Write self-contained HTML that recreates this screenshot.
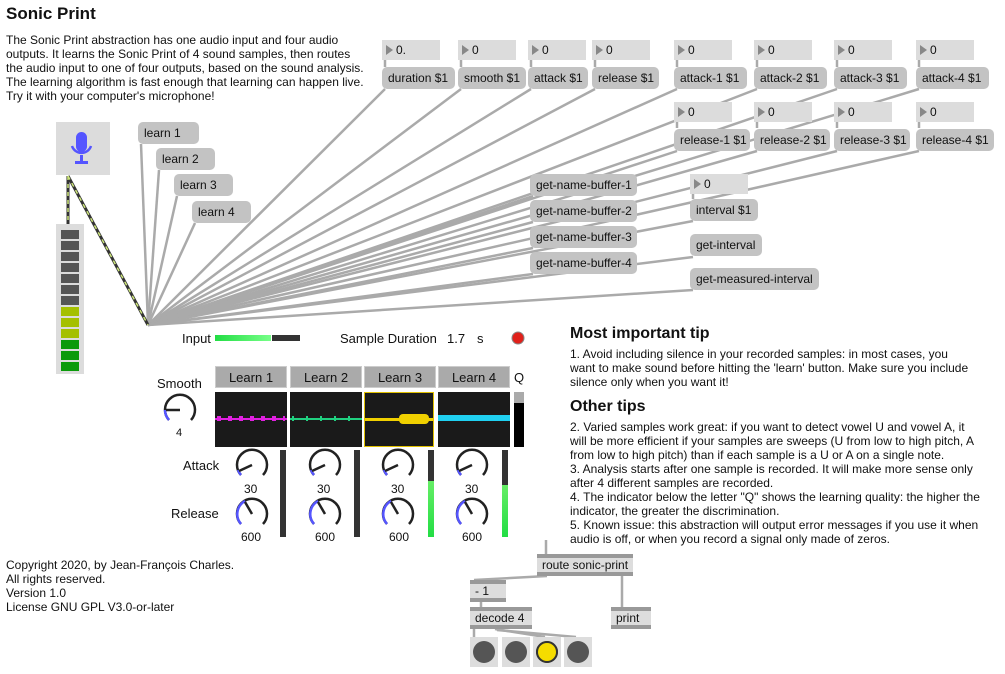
<!DOCTYPE html>
<html><head><meta charset="utf-8"><style>
body{margin:0;width:1005px;height:674px;background:#fff;position:relative;overflow:hidden;font-family:"Liberation Sans",Arial,sans-serif;color:#111}
.a{position:absolute}
.msg{position:absolute;background:#c3c3c3;border-radius:5px;font-size:12px;line-height:22px;padding-left:6px;box-sizing:border-box;height:22px;color:#111}
.num{position:absolute;background:#dcdcdc;height:20px;font-size:12px;line-height:20px;box-sizing:border-box;padding-left:14px}
.num:before{content:"";position:absolute;left:4px;top:5px;border-left:7px solid #888;border-top:5px solid transparent;border-bottom:5px solid transparent}
.t{position:absolute;font-size:12px;line-height:14px;white-space:nowrap}
.lb{position:absolute;background:#aaa;border:1px solid #ccc;height:22px;font-size:13px;line-height:22px;text-align:center;box-sizing:border-box}
.wv{position:absolute;background:#1a1a1a;top:392px;height:55px}
.obj{position:absolute;background:#ddd;border-top:4px solid #999;border-bottom:4px solid #999;font-size:12px;line-height:14px;padding-left:5px;box-sizing:border-box;height:22px}
.btn{position:absolute;top:637px;width:28px;height:30px;background:#ddd}
.btn:after{content:"";position:absolute;left:3px;top:4px;width:22px;height:22px;border-radius:50%;background:#555}
</style></head><body>
<svg class="a" style="left:0;top:0" width="1005" height="674">
<g stroke="#aaa" stroke-width="2.5" fill="none">
<line x1="148" y1="325" x2="141" y2="144"/>
<line x1="148" y1="325" x2="159" y2="170"/>
<line x1="148" y1="325" x2="177" y2="196"/>
<line x1="148" y1="325" x2="195" y2="223"/>
<line x1="148" y1="325" x2="385" y2="89"/>
<line x1="148" y1="325" x2="461" y2="89"/>
<line x1="148" y1="325" x2="531" y2="89"/>
<line x1="148" y1="325" x2="595" y2="89"/>
<line x1="148" y1="325" x2="677" y2="89"/>
<line x1="148" y1="325" x2="757" y2="89"/>
<line x1="148" y1="325" x2="837" y2="89"/>
<line x1="148" y1="325" x2="919" y2="89"/>
<line x1="148" y1="325" x2="677" y2="151"/>
<line x1="148" y1="325" x2="757" y2="151"/>
<line x1="148" y1="325" x2="837" y2="151"/>
<line x1="148" y1="325" x2="919" y2="151"/>
<line x1="148" y1="325" x2="533" y2="196"/>
<line x1="148" y1="325" x2="533" y2="222"/>
<line x1="148" y1="325" x2="533" y2="248"/>
<line x1="148" y1="325" x2="533" y2="274"/>
<line x1="148" y1="325" x2="693" y2="221"/>
<line x1="148" y1="325" x2="693" y2="257"/>
<line x1="148" y1="325" x2="693" y2="290"/>
<line x1="385" y1="60" x2="385" y2="67"/><line x1="461" y1="60" x2="461" y2="67"/><line x1="531" y1="60" x2="531" y2="67"/><line x1="595" y1="60" x2="595" y2="67"/>
<line x1="677" y1="60" x2="677" y2="67"/><line x1="757" y1="60" x2="757" y2="67"/><line x1="837" y1="60" x2="837" y2="67"/><line x1="919" y1="60" x2="919" y2="67"/>
<line x1="677" y1="122" x2="677" y2="128"/><line x1="757" y1="122" x2="757" y2="128"/><line x1="837" y1="122" x2="837" y2="128"/><line x1="919" y1="122" x2="919" y2="128"/>
<line x1="693" y1="194" x2="693" y2="199"/>
<line x1="546" y1="540" x2="546" y2="554"/>
<line x1="547" y1="576" x2="474" y2="580"/>
<line x1="622" y1="576" x2="622" y2="607"/>
<line x1="481" y1="602" x2="481" y2="607"/>
<line x1="474" y1="629" x2="474" y2="637"/>
<line x1="495" y1="629" x2="545" y2="637"/>
<line x1="497" y1="630" x2="576" y2="637"/>
</g>
<g stroke="#333" stroke-width="3" fill="none"><line x1="68" y1="176" x2="68" y2="224"/><line x1="68" y1="176" x2="148" y2="325"/></g>
<g stroke="#cde67a" stroke-width="1.5" stroke-dasharray="4 4" fill="none"><line x1="68" y1="176" x2="68" y2="224"/><line x1="68" y1="176" x2="148" y2="325"/></g>
</svg>
<svg class="a" style="left:0;top:0" width="1005" height="674">
<g fill="none" stroke-width="2.5">
<g transform="translate(180,410)"><path d="M-11,10 A15,15 0 1 1 11,10" stroke="#222"/><path d="M-11,10 A15,15 0 0 1 -15,0" stroke="#55f"/><line x1="0" y1="0" x2="-14" y2="0" stroke="#222"/></g>
<g transform="translate(252,465)"><path d="M-11,10 A15,15 0 1 1 11,10" stroke="#222"/><path d="M-11,10 A15,15 0 0 1 -14,5" stroke="#55f"/><line x1="0" y1="0" x2="-13" y2="6" stroke="#222"/></g>
<g transform="translate(325,465)"><path d="M-11,10 A15,15 0 1 1 11,10" stroke="#222"/><path d="M-11,10 A15,15 0 0 1 -14,5" stroke="#55f"/><line x1="0" y1="0" x2="-13" y2="6" stroke="#222"/></g>
<g transform="translate(398,465)"><path d="M-11,10 A15,15 0 1 1 11,10" stroke="#222"/><path d="M-11,10 A15,15 0 0 1 -14,5" stroke="#55f"/><line x1="0" y1="0" x2="-13" y2="6" stroke="#222"/></g>
<g transform="translate(472,465)"><path d="M-11,10 A15,15 0 1 1 11,10" stroke="#222"/><path d="M-11,10 A15,15 0 0 1 -14,5" stroke="#55f"/><line x1="0" y1="0" x2="-13" y2="6" stroke="#222"/></g>
<g transform="translate(252,514)"><path d="M-11,10 A15,15 0 1 1 11,10" stroke="#222"/><path d="M-11,10 A15,15 0 0 1 -7,-13" stroke="#55f"/><line x1="0" y1="0" x2="-7" y2="-12" stroke="#222"/></g>
<g transform="translate(325,514)"><path d="M-11,10 A15,15 0 1 1 11,10" stroke="#222"/><path d="M-11,10 A15,15 0 0 1 -7,-13" stroke="#55f"/><line x1="0" y1="0" x2="-7" y2="-12" stroke="#222"/></g>
<g transform="translate(398,514)"><path d="M-11,10 A15,15 0 1 1 11,10" stroke="#222"/><path d="M-11,10 A15,15 0 0 1 -7,-13" stroke="#55f"/><line x1="0" y1="0" x2="-7" y2="-12" stroke="#222"/></g>
<g transform="translate(472,514)"><path d="M-11,10 A15,15 0 1 1 11,10" stroke="#222"/><path d="M-11,10 A15,15 0 0 1 -7,-13" stroke="#55f"/><line x1="0" y1="0" x2="-7" y2="-12" stroke="#222"/></g>
</g>
<circle cx="518" cy="338" r="6" fill="#e0201a" stroke="#888"/>
</svg>

<div class="a" style="left:6px;top:4px;font-size:17px;font-weight:bold">Sonic Print</div>
<div class="t" style="left:6px;top:33px">The Sonic Print abstraction has one audio input and four audio<br>outputs. It learns the Sonic Print of 4 sound samples, then routes<br>the audio input to one of four outputs, based on the sound analysis.<br>The learning algorithm is fast enough that learning can happen live.<br>Try it with your computer's microphone!</div>

<div class="num" style="left:382px;top:40px;width:58px">0.</div>
<div class="num" style="left:458px;top:40px;width:58px">0</div>
<div class="num" style="left:528px;top:40px;width:58px">0</div>
<div class="num" style="left:592px;top:40px;width:58px">0</div>
<div class="num" style="left:674px;top:40px;width:58px">0</div>
<div class="num" style="left:754px;top:40px;width:58px">0</div>
<div class="num" style="left:834px;top:40px;width:58px">0</div>
<div class="num" style="left:916px;top:40px;width:58px">0</div>
<div class="msg" style="left:382px;top:67px;width:73px">duration $1</div>
<div class="msg" style="left:458px;top:67px;width:68px">smooth $1</div>
<div class="msg" style="left:528px;top:67px;width:60px">attack $1</div>
<div class="msg" style="left:592px;top:67px;width:67px">release $1</div>
<div class="msg" style="left:674px;top:67px;width:73px">attack-1 $1</div>
<div class="msg" style="left:754px;top:67px;width:73px">attack-2 $1</div>
<div class="msg" style="left:834px;top:67px;width:73px">attack-3 $1</div>
<div class="msg" style="left:916px;top:67px;width:73px">attack-4 $1</div>
<div class="num" style="left:674px;top:102px;width:58px">0</div>
<div class="num" style="left:754px;top:102px;width:58px">0</div>
<div class="num" style="left:834px;top:102px;width:58px">0</div>
<div class="num" style="left:916px;top:102px;width:58px">0</div>
<div class="msg" style="left:674px;top:129px;width:76px">release-1 $1</div>
<div class="msg" style="left:754px;top:129px;width:76px">release-2 $1</div>
<div class="msg" style="left:834px;top:129px;width:76px">release-3 $1</div>
<div class="msg" style="left:916px;top:129px;width:78px">release-4 $1</div>
<div class="msg" style="left:530px;top:174px;width:107px">get-name-buffer-1</div>
<div class="msg" style="left:530px;top:200px;width:107px">get-name-buffer-2</div>
<div class="msg" style="left:530px;top:226px;width:107px">get-name-buffer-3</div>
<div class="msg" style="left:530px;top:252px;width:107px">get-name-buffer-4</div>
<div class="num" style="left:690px;top:174px;width:58px">0</div>
<div class="msg" style="left:690px;top:199px;width:68px">interval $1</div>
<div class="msg" style="left:690px;top:234px;width:72px">get-interval</div>
<div class="msg" style="left:690px;top:268px;width:129px">get-measured-interval</div>
<div class="msg" style="left:138px;top:122px;width:61px">learn 1</div>
<div class="msg" style="left:156px;top:148px;width:59px">learn 2</div>
<div class="msg" style="left:174px;top:174px;width:59px">learn 3</div>
<div class="msg" style="left:192px;top:201px;width:59px">learn 4</div>

<div class="a" style="left:56px;top:122px;width:54px;height:53px;background:#dcdcdc">
<svg width="54" height="53"><rect x="20" y="10" width="11" height="20" rx="5.5" fill="#5555ff"/><path d="M16,24 A10,10 0 0 0 35,24" stroke="#5555ff" stroke-width="2.5" fill="none"/><rect x="24" y="33" width="3" height="6" fill="#5555ff"/><rect x="19" y="39" width="13" height="3" fill="#5555ff"/></svg></div>
<div class="a" style="left:56px;top:224px;width:28px;height:150px;background:#dcdcdc">
<svg width="28" height="150">
<g fill="#555"><rect x="5" y="6" width="18" height="9"/><rect x="5" y="17" width="18" height="9"/><rect x="5" y="28" width="18" height="9"/><rect x="5" y="39" width="18" height="9"/><rect x="5" y="50" width="18" height="9"/><rect x="5" y="61" width="18" height="9"/><rect x="5" y="72" width="18" height="9"/></g>
<g fill="#a5c000"><rect x="5" y="83" width="18" height="9"/><rect x="5" y="94" width="18" height="9"/><rect x="5" y="105" width="18" height="9"/></g>
<g fill="#0a9a0a"><rect x="5" y="116" width="18" height="9"/><rect x="5" y="127" width="18" height="9"/><rect x="5" y="138" width="18" height="9"/></g></svg></div>

<div class="a" style="left:182px;top:331px;font-size:13px">Input</div>
<div class="a" style="left:215px;top:335px;width:56px;height:6px;background:linear-gradient(90deg,#22dd44,#77ff88)"></div>
<div class="a" style="left:272px;top:335px;width:28px;height:6px;background:#333"></div>
<div class="a" style="left:340px;top:331px;font-size:13px">Sample Duration</div>
<div class="a" style="left:447px;top:331px;font-size:13px">1.7</div>
<div class="a" style="left:477px;top:331px;font-size:13px">s</div>

<div class="a" style="left:157px;top:376px;font-size:13px">Smooth</div>
<div class="a" style="left:176px;top:427px;font-size:11px">4</div>
<div class="lb" style="left:215px;top:366px;width:72px">Learn 1</div>
<div class="lb" style="left:290px;top:366px;width:72px">Learn 2</div>
<div class="lb" style="left:364px;top:366px;width:72px">Learn 3</div>
<div class="lb" style="left:438px;top:366px;width:72px">Learn 4</div>
<div class="a" style="left:514px;top:370px;font-size:13px">Q</div>
<div class="wv" style="left:215px;width:72px"><div class="a" style="left:0;top:26px;width:72px;height:2px;background:#e020e0"></div><div class="a" style="left:2px;top:24px;width:68px;height:5px;background:repeating-linear-gradient(90deg,#e020e0 0 4px,transparent 4px 11px)"></div></div>
<div class="wv" style="left:290px;width:72px"><div class="a" style="left:0;top:26px;width:72px;height:2px;background:#20d080"></div><div class="a" style="left:2px;top:24px;width:68px;height:5px;background:repeating-linear-gradient(90deg,#20d080 0 2px,transparent 2px 14px)"></div></div>
<div class="wv" style="left:364px;width:70px;border:1px solid #e0c000;box-sizing:border-box"><div class="a" style="left:0;top:25px;width:68px;height:3px;background:#f0d000"></div><div class="a" style="left:34px;top:21px;width:30px;height:10px;background:#f0d000;border-radius:4px"></div></div>
<div class="wv" style="left:438px;width:72px"><div class="a" style="left:0;top:23px;width:72px;height:6px;background:#20d0f0"></div></div>
<div class="a" style="left:514px;top:392px;width:10px;height:55px;background:#000"><div style="height:11px;background:#aaa"></div></div>

<div class="a" style="left:183px;top:458px;font-size:13px">Attack</div>
<div class="a" style="left:171px;top:506px;font-size:13px">Release</div>
<div class="t" style="left:244px;top:482px">30</div><div class="t" style="left:317px;top:482px">30</div><div class="t" style="left:391px;top:482px">30</div><div class="t" style="left:465px;top:482px">30</div>
<div class="t" style="left:241px;top:530px">600</div><div class="t" style="left:315px;top:530px">600</div><div class="t" style="left:389px;top:530px">600</div><div class="t" style="left:462px;top:530px">600</div>
<div class="a" style="left:280px;top:450px;width:6px;height:87px;background:#333"></div>
<div class="a" style="left:354px;top:450px;width:6px;height:87px;background:#333"></div>
<div class="a" style="left:428px;top:450px;width:6px;height:87px;background:#333"><div class="a" style="left:0;top:31px;width:6px;height:56px;background:linear-gradient(#66ee66,#22dd44)"></div></div>
<div class="a" style="left:502px;top:450px;width:6px;height:87px;background:#333"><div class="a" style="left:0;top:35px;width:6px;height:52px;background:linear-gradient(#66ee66,#22dd44)"></div></div>

<div class="a" style="left:570px;top:325px;font-size:16px;font-weight:bold">Most important tip</div>
<div class="t" style="left:570px;top:347px">1. Avoid including silence in your recorded samples: in most cases, you<br>want to make sound before hitting the 'learn' button. Make sure you include<br>silence only when you want it!</div>
<div class="a" style="left:570px;top:398px;font-size:16px;font-weight:bold">Other tips</div>
<div class="t" style="left:570px;top:420px">2. Varied samples work great: if you want to detect vowel U and vowel A, it<br>will be more efficient if your samples are sweeps (U from low to high pitch, A<br>from low to high pitch) than if each sample is a U or A on a single note.<br>3. Analysis starts after one sample is recorded. It will make more sense only<br>after 4 different samples are recorded.<br>4. The indicator below the letter "Q" shows the learning quality: the higher the<br>indicator, the greater the discrimination.<br>5. Known issue: this abstraction will output error messages if you use it when<br>audio is off, or when you record a signal only made of zeros.</div>

<div class="t" style="left:6px;top:558px">Copyright 2020, by Jean-François Charles.<br>All rights reserved.<br>Version 1.0<br>License GNU GPL V3.0-or-later</div>

<div class="obj" style="left:537px;top:554px;width:96px">route sonic-print</div>
<div class="obj" style="left:470px;top:580px;width:36px">- 1</div>
<div class="obj" style="left:470px;top:607px;width:62px">decode 4</div>
<div class="obj" style="left:611px;top:607px;width:40px">print</div>
<div class="btn" style="left:470px"></div>
<div class="btn" style="left:502px"></div>
<div class="btn" style="left:533px;"><div class="a" style="left:3px;top:4px;width:18px;height:18px;border-radius:50%;background:#f5dc00;border:2px solid #333;z-index:1"></div></div>
<div class="btn" style="left:564px"></div>
</body></html>
